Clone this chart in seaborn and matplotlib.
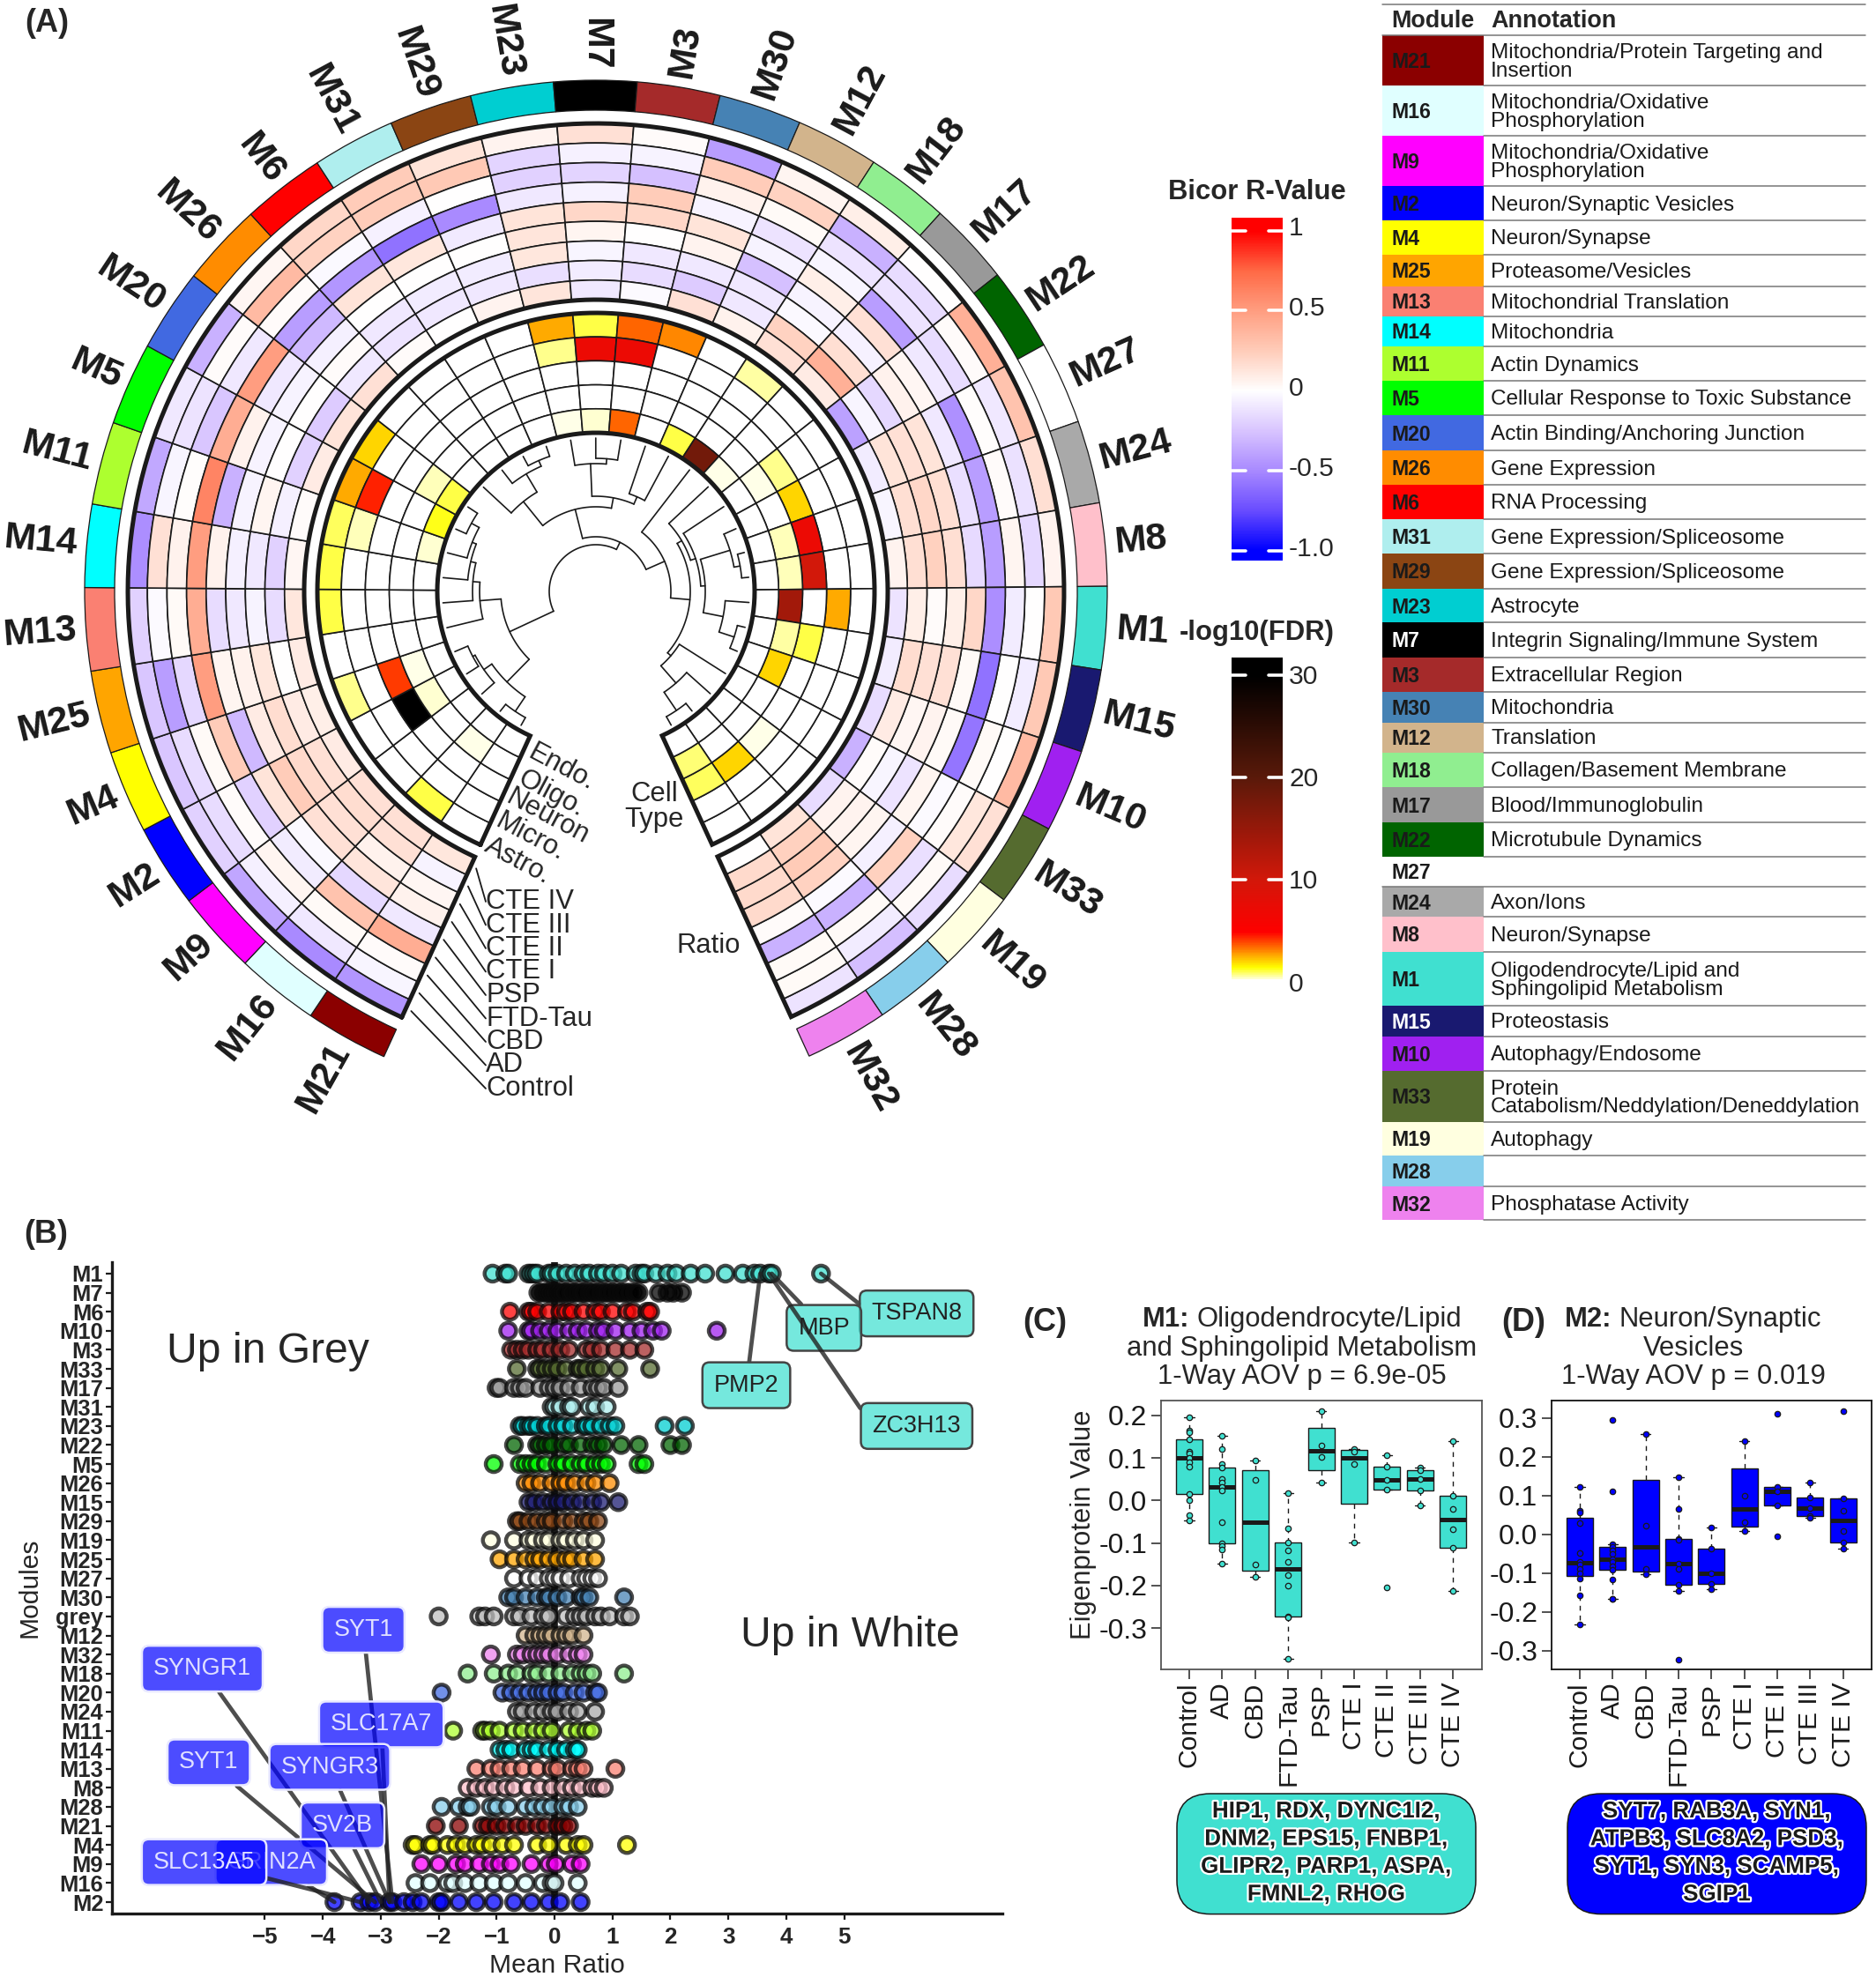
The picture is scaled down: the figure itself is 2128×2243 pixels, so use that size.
import numpy as np, pandas as pd, math
import matplotlib
matplotlib.use("Agg")
import matplotlib.pyplot as plt
import seaborn as sns
import matplotlib.patheffects as pe
from matplotlib.colors import LinearSegmentedColormap, Normalize
from matplotlib.patches import FancyBboxPatch, Rectangle

# ---------------- data ----------------
modules = ["M21","M16","M9","M2","M4","M25","M13","M14","M11","M5","M20","M26","M6","M31","M29","M23","M7",
           "M3","M30","M12","M18","M17","M22","M27","M24","M8","M1","M15","M10","M33","M19","M28","M32"]
module_colors = ["#8B0000","#E0FFFF","#FF00FF","#0000FF","#FFFF00","#FFA500","#FA8072","#00FFFF","#ADFF2F","#00FF00",
                 "#4169E1","#FF8C00","#FF0000","#AFEEEE","#8B4513","#00CED1","#000000","#A52A2A","#4682B4","#D2B48C",
                 "#90EE90","#999999","#006400","#FFFFFF","#A9A9A9","#FFC0CB","#40E0D0","#191970","#A020F0","#556B2F",
                 "#FFFFE0","#87CEEB","#EE82EE"]
ratio_rows = ["Control","AD","CBD","FTD-Tau","PSP","CTE I","CTE II","CTE III","CTE IV"]
cell_rows = ["Astro.","Micro.","Neuron","Oligo.","Endo."]

# bicor R per module, Control ... CTE IV
bicor = [
 [-.45,-.04,.02,.42,-.1,.07,.04,-.05,.12],
 [-.5,-.1,.03,.3,-.17,.13,.07,.15,.15],
 [-.38,-.07,.05,-.08,-.03,.15,.15,.17,.15],
 [-.2,-.15,.02,-.2,.14,.25,.18,.15,.1],
 [-.25,-.15,.03,.25,-.3,.1,.17,.1,.08],
 [-.25,-.42,-.17,.5,.05,.07,.12,0,.1],
 [-.2,-.02,.03,.42,-.15,-.1,-.05,-.15,.12],
 [-.48,.15,.07,.5,.07,-.07,-.1,-.2,.04],
 [-.37,-.04,.01,.62,-.33,-.05,.05,-.07,.02],
 [-.1,-.12,-.25,.42,.07,-.05,0,-.2,.1],
 [-.33,.02,-.1,.5,-.1,-.05,0,-.22,.14],
 [.04,.35,.02,-.42,-.3,-.07,.02,-.1,.15],
 [.2,.22,-.03,-.45,.14,0,-.1,-.12,.02],
 [.25,.25,-.06,-.6,.12,0,-.08,-.1,0],
 [.14,.27,0,-.5,-.09,0,-.08,-.1,.06],
 [.06,-.18,-.2,-.1,.14,.13,.12,-.14,.13],
 [.15,-.06,-.18,-.06,.2,.05,-.04,-.08,-.1],
 [.02,-.05,-.27,.25,.2,0,-.1,-.15,-.02],
 [-.42,.25,.07,-.05,.14,.06,-.1,-.22,.15],
 [.05,.22,.03,-.12,-.05,-.27,-.1,-.1,.07],
 [.08,-.33,-.12,-.04,.08,-.05,-.03,.22,.15],
 [0,-.15,-.12,-.42,.15,-.06,.16,.4,.1],
 [.4,.02,-.15,-.1,.04,.07,-.17,-.04,-.4],
 [.3,-.1,.01,-.47,-.1,.14,.15,.14,-.08],
 [.16,-.13,.02,-.42,-.14,.16,.2,.16,-.04],
 [.06,-.17,.05,-.42,-.16,.16,.23,.16,.06],
 [.27,0,-.08,-.48,.2,.08,.02,.08,-.12],
 [.27,-.08,0,-.6,.03,.15,.15,.17,-.08],
 [.35,0,.03,-.58,.03,.06,.04,.1,-.15],
 [.15,.12,.02,-.02,.05,-.12,-.04,.02,-.33],
 [-.15,.03,-.14,.23,-.07,.05,.06,.06,-.15],
 [-.28,-.08,.03,-.33,-.02,.22,.26,.23,.14],
 [-.12,.03,.03,-.33,.02,.18,.18,.18,0],
]
# -log10(FDR) per module, Astro ... Endo
fdr = [
 [0,0,0,0,0],[1.0,0,0,.2,0],[0,0,0,0,0],[0,0,30,.3,0],[.65,0,4.1,.2,0],[0,0,0,0,0],[1.0,0,0,0,0],[1.0,0,0,0,0],
 [.9,.4,0,0,.25],[2.5,4.4,0,0,1.2],[1.9,0,0,.4,.95],[0,0,0,0,0],[0,0,0,0,0],[0,0,0,0,0],[0,0,0,0,0],
 [2.5,.6,0,0,.12],[1.0,7,0,0,.3],[3.4,7,0,0,3.4],[3.0,0,0,0,0],[0,0,0,0,1.0],[.55,0,0,0,18],[0,0,0,0,.15],
 [0,0,.6,.2,0],[0,0,1.9,0,0],[0,0,7,.45,0],[0,0,10,.4,0],[0,2.5,0,14,0],[0,0,1.0,.5,0],[0,0,0,1.9,0],
 [0,0,0,0,0],[0,0,.2,0,0],[0,0,1.9,0,0],[0,0,.9,.8,0],
]
# dendrogram: (merge radius, [children])
tree = (53,[
  (108,[
    (132,["M25",(140,["M13",(146,["M14",(151,["M11",(161,["M5","M20"])])])])]),
    (144,[(155,[(158,["M4","M2"]),"M9"]),(164,["M16","M21"])]),
  ]),
  (62,[
    (96,[
      (131,["M26",(155,["M6",(162,["M31","M29"])])]),
      (108,[(145,["M23",(151,["M7","M3"])]),(117,["M30","M12"])]),
    ]),
    (85,["M18",(107,[
      (113,["M17",(119,["M22",(124,[(159,["M27",(166,["M24","M8"])]),(147,["M1",(165,["M15","M10"])])])])]),
      (112,["M33",(138,["M19",(163,["M28","M32"])])]),
    ])]),
  ]),
])

table_notes = ["Mitochondria/Protein Targeting and\nInsertion","Mitochondria/Oxidative\nPhosphorylation",
 "Mitochondria/Oxidative\nPhosphorylation","Neuron/Synaptic Vesicles","Neuron/Synapse","Proteasome/Vesicles",
 "Mitochondrial Translation","Mitochondria","Actin Dynamics","Cellular Response to Toxic Substance",
 "Actin Binding/Anchoring Junction","Gene Expression","RNA Processing","Gene Expression/Spliceosome",
 "Gene Expression/Spliceosome","Astrocyte","Integrin Signaling/Immune System","Extracellular Region","Mitochondria",
 "Translation","Collagen/Basement Membrane","Blood/Immunoglobulin","Microtubule Dynamics","","Axon/Ions",
 "Neuron/Synapse","Oligodendrocyte/Lipid and\nSphingolipid Metabolism","Proteostasis","Autophagy/Endosome",
 "Protein\nCatabolism/Neddylation/Deneddylation","Autophagy","","Phosphatase Activity"]

b_rows = ["M1","M7","M6","M10","M3","M33","M17","M31","M23","M22","M5","M26","M15","M29","M19","M25","M27","M30",
          "grey","M12","M32","M18","M20","M24","M11","M14","M13","M8","M28","M21","M4","M9","M16","M2"]
b_values = [
 [-1.07,-.85,-.8,-.45,-.4,-.35,-.3,-.1,-.05,.05,.2,.35,.5,.6,.75,.85,1.0,1.15,1.4,1.5,1.55,1.75,1.95,2.1,2.35,2.6,2.95,3.25,3.45,3.55,3.7,3.75,4.6],
 [-.28,-.22,-.15,-.1,-.05,0,.04,.1,.16,.2,.28,.33,.4,.47,.52,.6,.66,.72,.8,.87,.93,1.0,1.08,1.15,1.22,1.3,1.38,1.45,1.8,1.95,2.05,2.2],
 [-.77,-.45,-.4,-.3,-.1,.1,.2,.3,.5,.7,.8,1.0,1.25,1.35,1.6,1.65],
 [-.8,-.45,-.4,-.25,-.1,.05,.25,.4,.55,.75,.85,1.05,1.3,1.5,1.7,1.85,2.8],
 [-.75,-.65,-.55,-.45,-.3,-.2,-.05,.1,.25,.55,.65,.8,1.05,1.3,1.55],
 [-.65,-.3,-.25,-.15,-.05,.05,.2,.4,.45,.55,.7,.8,1.1,1.65],
 [-1.0,-.95,-.7,-.6,-.5,-.25,-.1,0,.1,.25,.45,.65,.75,.85,1.1],
 [-.05,0,.1,.25,.3,.6,.7,.9],
 [-.6,-.55,-.45,-.4,-.3,-.15,-.1,.05,.15,.3,.5,.55,.65,.8,.95,1.05,1.9,2.25],
 [-.7,-.3,-.25,-.15,-.05,.15,.25,.45,.65,.75,.85,1.15,1.45,2.0,2.2],
 [-1.05,-.6,-.5,-.4,-.3,-.15,.05,.15,.3,.45,.55,.7,.8,.9,1.45,1.55],
 [-.5,-.4,-.25,-.05,.1,.2,.35,.55,.7,.95],
 [-.45,-.35,-.2,-.05,.05,.15,.3,.45,.65,.8,1.1],
 [-.65,-.6,-.45,-.3,-.15,-.05,.15,.3,.5,.6,.75],
 [-1.1,-.7,-.45,-.35,-.2,-.1,.1,.2,.35,.5,.7],
 [-.95,-.7,-.5,-.35,-.25,-.1,.05,.2,.3,.5,.7],
 [-.7,-.45,-.3,-.1,0,.1,.25,.45,.55,.65,.75],
 [-.8,-.7,-.5,-.3,-.15,-.1,.05,.2,.45,.5,.6,1.2],
 [-2.0,-1.3,-1.2,-1.05,-.7,-.6,-.4,-.2,-.1,.2,.35,.45,.55,.7,.8,.95,1.2,1.3],
 [-.5,-.35,-.25,-.15,-.05,.1,.2,.3,.5],
 [-1.1,-.65,-.55,-.4,-.3,-.2,-.1,.05,.25,.4,.5],
 [-1.5,-1.05,-.8,-.65,-.4,-.3,-.1,.1,.3,.45,.55,.65,1.2],
 [-1.95,-.9,-.75,-.6,-.45,-.3,-.2,-.1,.05,.15,.35,.5,.7,.75],
 [-.65,-.55,-.35,-.2,-.05,.05,.25,.4,.7],
 [-1.75,-1.25,-1.2,-1.1,-.95,-.7,-.55,-.35,-.2,-.05,.25,.4,.55,.65],
 [-.95,-.85,-.75,-.5,-.4,-.3,-.1,.05,.2,.35,.4],
 [-1.35,-1.1,-.95,-.75,-.55,-.3,-.05,.05,.3,.4,.5,1.05],
 [-1.5,-1.35,-1.2,-1.05,-.85,-.7,-.45,-.25,-.05,.15,.3,.45,.65,.75,.85],
 [-1.95,-1.65,-1.5,-1.45,-1.1,-1,-.8,-.5,-.35,-.2,-.05,.15,.25,.4],
 [-2.05,-1.65,-1.25,-1.15,-1.0,-.85,-.65,-.5,-.3,-.15,.05,.15,.25],
 [-2.45,-2.4,-2.15,-2.1,-1.85,-1.7,-1.55,-1.35,-1.25,-1.1,-.9,-.7,-.3,-.1,.2,.4,.5,1.25],
 [-2.3,-2.0,-1.7,-1.55,-1.3,-1.1,-.95,-.75,-.4,-.1,.02,.3,.45],
 [-2.4,-2.15,-1.85,-1.75,-1.55,-1.3,-1.05,-.8,-.5,-.2,-.05,0,.4],
 [-3.8,-3.35,-3.2,-3.1,-2.85,-2.8,-2.6,-2.45,-2.3,-2.0,-1.95,-1.65,-1.35,-1.05,-.7,-.4,-.1,.1,.45],
]
b_cyan_labels = [("TSPAN8",4.6,0,6.25,2.09),("MBP",3.75,0,4.65,2.85),("PMP2",3.55,0,3.31,5.86),("ZC3H13",3.7,0,6.25,8.0)]
b_blue_labels = [("SYT1",-2.8,33,-3.3,18.7),("SYNGR1",-3.2,33,-6.08,20.74),("SLC17A7",-2.85,33,-2.99,23.67),
                 ("SYT1",-3.1,33,-5.97,25.66),("SYNGR3",-2.85,33,-3.88,25.9),("SV2B",-3.0,33,-3.66,28.97),
                 ("GRIN2A",-3.8,33,-4.89,30.9),("SLC13A5",-3.35,33,-6.05,30.9)]

groups = ["Control","AD","CBD","FTD-Tau","PSP","CTE I","CTE II","CTE III","CTE IV"]
m1_values = [
 [.195,.165,.16,.143,.115,.11,.1,.09,.08,.015,0,-.035,-.047],
 [.152,.122,.085,.078,.05,.042,.032,.024,-.05,-.1,-.107,-.115,-.148],
 [.095,.048,-.15,-.18],
 [.017,-.065,-.098,-.117,-.145,-.175,-.2,-.272,-.275,-.373],
 [.21,.13,.102,.042],
 [.122,.115,.085,-.098],
 [.107,.08,.048,.025,-.205],
 [.078,.072,.05,.024,-.011],
 [.14,.012,-.02,-.068,-.112,-.213],
]
m2_values = [
 [.122,.062,.057,.029,-.048,-.071,-.077,-.088,-.1,-.114,-.158,-.233],
 [.295,.111,-.025,-.031,-.04,-.05,-.063,-.071,-.082,-.09,-.116,-.165,-.167],
 [.258,.022,-.088,-.103],
 [.147,.065,-.011,-.013,-.075,-.088,-.13,-.145,-.322],
 [.018,-.036,-.1,-.127,-.14],
 [.241,.1,.031,.008],
 [.312,.122,.11,.074,-.005],
 [.133,.096,.069,.048,.043],
 [.317,.094,.062,.009,-.02,-.037],
]
m1_genes = ["HIP1, RDX, DYNC1I2,","DNM2, EPS15, FNBP1,","GLIPR2, PARP1, ASPA,","FMNL2, RHOG"]
m2_genes = ["SYT7, RAB3A, SYN1,","ATPB3, SLC8A2, PSD3,","SYT1, SYN3, SCAMP5,","SGIP1"]

# ---------------- layout ----------------
W, H = 2128, 2243
sns.set_theme(style="white")
plt.rcParams["font.family"] = ["Liberation Sans", "DejaVu Sans"]
fig = plt.figure(figsize=(W/100, H/100), dpi=100, facecolor="white")
def box(l, t, r, b):
    return [l/W, 1-b/H, (r-l)/W, (b-t)/H]
px = lambda p: p*0.72

bicor_cmap = LinearSegmentedColormap.from_list("bicor", [
    (0,"#0000FF"),(.125,"#6A4DFF"),(.25,"#A98AFF"),(.375,"#D9C5FF"),(.5,"#FFFFFF"),
    (.625,"#FFCDBA"),(.75,"#FF9E81"),(.875,"#FF6A46"),(1,"#FF0000")])
fdr_norm = Normalize(0, 30)
fdr_cmap = LinearSegmentedColormap.from_list("fdr", [
    (0,"#FFFFFF"),(1.3/30,"#FFFF00"),(4.8/30,"#FF0000"),(10/30,"#D2180A"),(20/30,"#5A1A0A"),(1,"#000000")])
bicor_norm = Normalize(-1, 1)

# ---------------- panel A ----------------
CX, CY, RM = 676, 671, 660
ax = fig.add_axes(box(CX-RM, CY-RM, CX+RM, CY+RM), projection="polar")
ax.set_autoscale_on(False)
ax.set_ylim(0, RM)
ax.set_axis_off()
START, STEP = 245.5, 9.42
n = len(modules)
centers = np.array([START-(i+.5)*STEP for i in range(n)])
thetas = np.deg2rad(centers)
width = np.deg2rad(STEP)
t0, t1 = np.deg2rad(START), np.deg2rad(START-n*STEP)
R_OUT0, R_OUT1 = 546, 580
R_A0, R_A1 = 331, 531
R_C0, R_C1 = 180, 316

ax.bar(thetas, R_OUT1-R_OUT0, width=width, bottom=R_OUT0, color=module_colors, edgecolor="k", linewidth=.9)
bic = np.array(bicor); dr = (R_A1-R_A0)/9
for j in range(9):
    ax.bar(thetas, dr, width=width, bottom=R_A1-(j+1)*dr, color=bicor_cmap(bicor_norm(bic[:,j])), edgecolor="k", linewidth=1.2)
fd = np.array(fdr); dc = (R_C1-R_C0)/5
for j in range(5):
    ax.bar(thetas, dc, width=width, bottom=R_C1-(j+1)*dc, color=fdr_cmap(fdr_norm(fd[:,j])), edgecolor="k", linewidth=1.2)

def outline(r0, r1):
    th = np.linspace(t0, t1, 400)
    ax.plot(np.r_[th, t1, th[::-1], t0], np.r_[np.full(400,r1), r0, np.full(400,r0), r1], color="k", lw=3.6,
            solid_joinstyle="miter", zorder=5)
outline(R_A0, R_A1); outline(R_C0, R_C1)

lookup = dict(zip(modules, thetas))
LEAF = 174
def draw(node):
    if isinstance(node, str):
        return lookup[node], LEAF
    R, kids = node
    info = [draw(k) for k in kids]
    for a, rc in info:
        ax.plot([a, a], [R, rc], color="k", lw=1.2, zorder=4)
    a0, a1 = info[0][0], info[-1][0]
    th = np.linspace(a0, a1, 80)
    ax.plot(th, np.full(80, R), color="k", lw=1.2, zorder=4)
    return (a0+a1)/2, R
draw(tree)

for m, th, deg in zip(modules, thetas, centers):
    flip = deg >= 90
    rot = deg-180 if flip else deg
    ax.text(th, 591, m, rotation=rot, rotation_mode="anchor", ha="right" if flip else "left", va="center",
            fontsize=px(43), fontweight="bold", color="k", clip_on=False)

# overlay in pixel space
axo = fig.add_axes([0,0,1,1], zorder=5)
axo.set_xlim(0, W); axo.set_ylim(H, 0); axo.set_axis_off()

def T(x, y, s, size, **kw):
    return axo.text(x, y, s, fontsize=px(size), ha=kw.pop("ha","center"), va=kw.pop("va","center"), **kw)

# ratio leader lines
st = np.deg2rad(START)
for j, lab in enumerate(ratio_rows):
    r = R_A1-(j+.5)*dr
    x0, y0 = CX+(r)*np.cos(st)+6, CY-(r)*np.sin(st)+3
    y1 = 1235-j*26.5
    axo.plot([x0, 551], [y0, y1], color="k", lw=1.3)
    T(551, y1, lab, 31, ha="left")
cell_pos = [(552,958),(564,930),(576,903),(590,882),(601,852)]
for lab, (x, y) in zip(cell_rows, cell_pos):
    T(x, y, lab, 31, ha="left", rotation=-28, rotation_mode="anchor")
T(742, 901, "Cell", 31); T(742, 930, "Type", 31); T(804, 1073, "Ratio", 31)
T(53, 27, "(A)", 36, fontweight="bold"); T(52, 1401, "(B)", 36, fontweight="bold")
T(1185, 1500, "(C)", 36, fontweight="bold"); T(1728, 1500, "(D)", 36, fontweight="bold")

# colour bars
T(1426, 218, "Bicor R-Value", 31, fontweight="bold")
T(1426, 718, "-log10(FDR)", 31, fontweight="bold")
cb1 = fig.add_axes(box(1397, 247, 1455, 636), zorder=6)
g1 = np.linspace(1.08, -1.06, 400)[:,None]
cb1.imshow(np.clip(g1,-1,1), aspect="auto", cmap=bicor_cmap, vmin=-1, vmax=1, extent=[0,1,-1.06,1.08])
cb1.set_axis_off()
for v, lab in [(1,"1"),(.5,"0.5"),(0,"0"),(-.5,"-0.5"),(-1,"-1.0")]:
    if v != 0:
        cb1.plot([0,.28],[v,v],color="w",lw=2.6); cb1.plot([.72,1],[v,v],color="w",lw=2.6)
    T(1462, 443-v*182-2, lab, 30, ha="left")
cb2 = fig.add_axes(box(1397, 746, 1455, 1111), zorder=6)
g2 = np.linspace(31.7, .25, 400)[:,None]
cb2.imshow(np.clip(g2,0,30), aspect="auto", cmap=fdr_cmap, vmin=0, vmax=30, extent=[0,1,.25,31.7])
cb2.set_axis_off()
for v in [30,20,10]:
    cb2.plot([0,.28],[v,v],color="w",lw=2.6); cb2.plot([.72,1],[v,v],color="w",lw=2.6)
for v in [30,20,10,0]:
    T(1462, 1117-v*11.65, str(v), 30, ha="left")

# annotation table
table_edges = [40,97,154,211,250,289,324.6,359,393,432,471,511,550,589,628,668,706,746,785,819.5,853.5,893,933,971.5,
               1006,1040,1080,1141,1176,1215,1272.6,1311,1346,1384]
TL, TM, TR = 1568, 1682.5, 2115.5
axo.plot([TL,TR],[4.5,4.5],color="#777",lw=1.1)
axo.plot([TL,TR],[40,40],color="#777",lw=1.1)
T(1578, 24, "Module", 27, ha="left", fontweight="bold")
T(1691, 24, "Annotation", 27, ha="left", fontweight="bold")
for i, (m, c, note) in enumerate(zip(modules, module_colors, table_notes)):
    a, b = table_edges[i], table_edges[i+1]
    axo.add_patch(Rectangle((TL,a), TM-TL, b-a, fc=c, ec="none"))
    axo.plot([TL if c=="#FFFFFF" else TM, TR],[b,b],color="#777",lw=1.1)
    T(1578, (a+b)/2+2, m, 23, ha="left", fontweight="bold", color="w" if m in ("M7","M15") else "k")
    lines = note.split("\n")
    for k, s in enumerate(lines):
        T(1691, (a+b)/2+2+(k-(len(lines)-1)/2)*20.5, s, 24.4, ha="left", color="#1a1a1a")

# ---------------- panel B ----------------
axb = fig.add_axes(box(127, 1432, 1137, 2171))
palette = dict(zip(modules, module_colors)); palette["grey"] = "#BEBEBE"
dfb = pd.DataFrame([(r, v) for r, vals in zip(b_rows, b_values) for v in vals], columns=["module","ratio"])
axb.plot([0,0],[-.6,33.3],color="k",lw=5.5,zorder=0,solid_capstyle="butt")
sns.stripplot(data=dfb, x="ratio", y="module", order=b_rows, hue="module", hue_order=b_rows, palette=palette,
              jitter=False, size=13, linewidth=3.2, edgecolor="#0a0a0a", alpha=.74, legend=False, ax=axb, zorder=3)
axb.set_xlim(-7.64, 7.73); axb.set_ylim(33.6, -.6)
sns.despine(ax=axb)
for s in ("left","bottom"):
    axb.spines[s].set_linewidth(2.4); axb.spines[s].set_color("k")
axb.set_xticks(range(-5,6)); axb.set_xticklabels(["\u2212"+str(-v) if v<0 else str(v) for v in range(-5,6)])
axb.tick_params(axis="both", length=5, width=1.6, color="k", bottom=True, left=True, pad=6)
for t in axb.get_xticklabels():
    t.set_fontsize(px(26)); t.set_fontweight("bold")
axb.set_yticks(range(len(b_rows))); axb.set_yticklabels(b_rows)
axb.tick_params(axis="y", pad=2)
for t in axb.get_yticklabels():
    t.set_fontsize(px(25.5)); t.set_fontweight("bold")
axb.set_xlabel(""); axb.set_ylabel("")
T(632, 2230, "Mean Ratio", 30)
T(33, 1801, "Modules", 30, rotation=90)
T(304, 1533, "Up in Grey", 48)
T(964, 1856, "Up in White", 48)
anchor_left = {"TSPAN8", "ZC3H13"}
def labels(items, fc, ec, tc):
    for name, x, y, tx, ty in items:
        axb.annotate(name, xy=(x,y), xytext=(tx,ty), ha="center", va="center", fontsize=px(27), color=tc,
                     bbox=dict(boxstyle="round,pad=0.48,rounding_size=0.3", fc=fc, ec=ec, lw=1.8),
                     arrowprops=dict(arrowstyle="-", color="#222222", lw=3.4, alpha=.8, shrinkA=0, shrinkB=0,
                                     relpos=(0,.5) if name in anchor_left else (.5,.5)), zorder=6)
labels(b_cyan_labels, (0.25,.88,.82,.72), "#444444", "#222222")
labels(b_blue_labels, (0,0,1,.7), "#E8E8FF", "#E0E0FF")

# ---------------- panels C and D ----------------
def fivenum_stats(vals):
    x = np.sort(np.asarray(vals, float)); k = len(x)
    n4 = math.floor((k+3)/2)/2
    d = [1, n4, (k+1)/2, k+1-n4, k]
    f = [.5*(x[math.floor(i-1)]+x[math.ceil(i-1)]) for i in d]
    iqr = f[3]-f[1]
    lo = x[x >= f[1]-1.5*iqr].min(); hi = x[x <= f[3]+1.5*iqr].max()
    return dict(med=f[2], q1=f[1], q3=f[3], whislo=lo, whishi=hi, fliers=[])

def panel(rect, values, color, ylim, yticks, spine):
    a = fig.add_axes(rect)
    df = pd.DataFrame([(g, v) for g, vals in zip(groups, values) for v in vals], columns=["group","value"])
    a.bxp([fivenum_stats(v) for v in values], positions=range(9), widths=.8, patch_artist=True, showfliers=False,
          boxprops=dict(facecolor=color, edgecolor="k", linewidth=1.0),
          medianprops=dict(color="k", linewidth=3.6, solid_capstyle="butt"),
          whiskerprops=dict(color="k", linestyle=(0,(4,4)), linewidth=1.0),
          capprops=dict(color="k", linewidth=1.0), capwidths=.3, manage_ticks=False)
    sns.stripplot(data=df, x="group", y="value", order=groups, color=color, jitter=False, size=4.6,
                  linewidth=.9, edgecolor="k", ax=a, zorder=5)
    a.set_xlim(-.868, 8.868); a.set_ylim(*ylim)
    a.set_xlabel(""); a.set_ylabel("")
    a.set_yticks(yticks); a.set_yticklabels([f"{v:.1f}" for v in yticks])
    a.set_xticks(range(9)); a.set_xticklabels(groups, rotation=90)
    a.tick_params(axis="both", length=8, width=1.1, color="#222", bottom=True, left=True, pad=3, labelcolor="k")
    a.tick_params(axis="x", labelsize=px(30))
    a.tick_params(axis="y", labelsize=px(32))
    for s in a.spines.values():
        s.set_visible(True); s.set_color(spine); s.set_linewidth(1.3)
    a.grid(False)
    return a
panel(box(1316.5,1589,1680.6,1893.5), m1_values, "#40E0D0", (-.396,.235), [.2,.1,0,-.1,-.2,-.3], "#555555")
panel(box(1759.5,1589,2123,1893.5), m2_values, "#0000FF", (-.3466,.345), [.3,.2,.1,0,-.1,-.2,-.3], "#111111")
T(1229, 1730, "Eigenprotein Value", 31, rotation=90)

fig.canvas.draw()
rend = fig.canvas.get_renderer()
def mixed(xc, y, bold, rest, size):
    t1_ = T(0, y, bold, size, ha="left", fontweight="bold")
    t2_ = T(0, y, rest, size, ha="left")
    w1 = t1_.get_window_extent(rend).width; w2 = t2_.get_window_extent(rend).width
    sp = size*.28
    x0 = xc-(w1+sp+w2)/2
    t1_.set_x(x0); t2_.set_x(x0+w1+sp)
mixed(1477, 1497, "M1:", "Oligodendrocyte/Lipid", 31)
T(1477, 1530, "and Sphingolipid Metabolism", 31)
T(1477, 1562, "1-Way AOV p = 6.9e-05", 31)
mixed(1920.6, 1497, "M2:", "Neuron/Synaptic", 31)
T(1920.6, 1530, "Vesicles", 31)
T(1920.6, 1562, "1-Way AOV p = 0.019", 31)

def gene_box(x0, x1, color, genes):
    axo.add_patch(FancyBboxPatch((x0+38,2035+38), x1-x0-76, 136.6-76, boxstyle="round,pad=38,rounding_size=38",
                                 fc=color, ec="k", lw=1.1, mutation_aspect=1))
    xc = (x0+x1)/2
    for i, s in enumerate(genes):
        T(xc, 2055+i*31.4, s, 26, fontweight="bold", color="k",
          path_effects=[pe.withStroke(linewidth=3.2, foreground="white")])
gene_box(1335, 1674, "#40E0D0", m1_genes)
gene_box(1778, 2117, "#0000FF", m2_genes)

fig.savefig("out.png", dpi=100, facecolor="white")
